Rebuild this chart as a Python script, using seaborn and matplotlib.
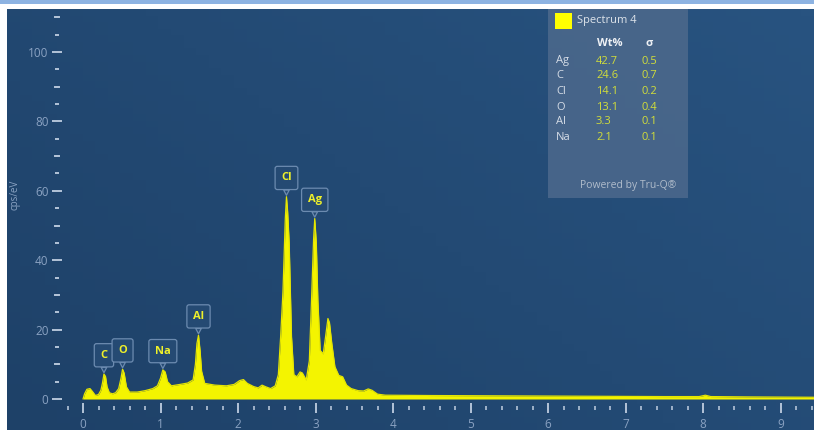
import numpy as np
import matplotlib
matplotlib.use("Agg")
import matplotlib.pyplot as plt
from matplotlib.patches import Rectangle
from matplotlib.colors import LinearSegmentedColormap
from matplotlib.ticker import FixedLocator
import seaborn as sns

# EDS spectrum: photon energy (keV) and intensity (cps/eV)
energy_kev = [
    0.00, 0.02, 0.05, 0.09, 0.12, 0.16, 0.20, 0.23, 0.25, 0.27, 0.29, 0.31,
    0.34, 0.38, 0.42, 0.46, 0.49, 0.51, 0.53, 0.56, 0.60, 0.70, 0.80, 0.90,
    0.96, 1.00, 1.03, 1.06, 1.09, 1.14, 1.25, 1.35, 1.42, 1.45, 1.47, 1.49,
    1.51, 1.53, 1.57, 1.70, 1.85, 1.95, 2.02, 2.07, 2.12, 2.20, 2.26, 2.31,
    2.36, 2.42, 2.48, 2.52, 2.55, 2.58, 2.61, 2.625, 2.64, 2.66, 2.69, 2.72,
    2.76, 2.80, 2.83, 2.88, 2.92, 2.95, 2.975, 2.99, 3.01, 3.03, 3.06, 3.10,
    3.13, 3.16, 3.18, 3.21, 3.25, 3.30, 3.35, 3.40, 3.46, 3.55, 3.62, 3.68,
    3.73, 3.80, 3.90, 4.50, 5.50, 6.50, 7.50, 7.95, 8.03, 8.10, 8.60, 9.43,
]
counts_cps = [
    0.0, 1.5, 2.8, 3.0, 2.2, 1.0, 1.3, 2.5, 4.5, 7.2, 6.5, 3.5,
    1.8, 1.5, 1.8, 3.0, 6.0, 8.6, 7.5, 3.5, 2.0, 2.0, 2.4, 3.0,
    3.8, 6.0, 8.4, 7.8, 5.0, 3.8, 4.2, 4.6, 5.5, 10.0, 16.0, 18.4,
    14.0, 8.0, 4.5, 4.0, 3.8, 4.2, 5.3, 5.6, 4.5, 3.6, 3.2, 4.0,
    3.5, 3.0, 3.8, 7.0, 18.0, 31.0, 52.0, 58.3, 54.0, 45.0, 18.0, 7.0,
    6.4, 7.8, 7.5, 5.5, 11.0, 29.5, 46.0, 52.0, 45.0, 28.5, 14.0, 13.0,
    18.0, 23.2, 22.0, 16.0, 9.3, 6.8, 6.4, 4.0, 3.0, 2.4, 2.3, 2.9,
    2.5, 1.4, 1.1, 1.0, 0.9, 0.8, 0.7, 0.7, 1.1, 0.7, 0.6, 0.5,
]

# Identified lines
peak_labels = ["C", "O", "Na", "Al", "Cl", "Ag"]
peak_energy = [0.27, 0.51, 1.03, 1.49, 2.625, 2.99]

# Quantification table
spectrum_name = "Spectrum 4"
elements = ["Ag", "C", "Cl", "O", "Al", "Na"]
wt_percent = ["42.7", "24.6", "14.1", "13.1", "3.3", "2.1"]
sigma = ["0.5", "0.7", "0.2", "0.4", "0.1", "0.1"]

x_major_ticks = [0, 1, 2, 3, 4, 5, 6, 7, 8, 9]
y_major_ticks = [0, 20, 40, 60, 80, 100]
y_mid_ticks = [10, 30, 50, 70, 90, 110]

sns.set_theme(style="dark")
plt.rcParams["font.family"] = ["Open Sans", "DejaVu Sans"]

W, H = 814, 430
fig = plt.figure(figsize=(W / 100, H / 100), dpi=100, facecolor="white")


def fx(px):
    return px / W


def fy(py):
    return 1 - py / H


TICK_C = "#b4c4d8"
LABEL_C = "#8aa2c2"
SPEC_C = "#f4f400"

ax = fig.add_axes([fx(7), 0, 1 - fx(7), 1 - 9 / H])
ax.set_facecolor("#21466e")

# soft diagonal shading of the plot panel
cmap = LinearSegmentedColormap.from_list("panel", ["#1e4168", "#285380"])
gx, gy = np.meshgrid(np.linspace(0, 1, 64), np.linspace(0, 1, 64))
ax.imshow(0.6 * gx + 0.4 * gy, cmap=cmap, extent=(0, 1, 0, 1),
          transform=ax.transAxes, origin="lower", aspect="auto", zorder=0)

ax.fill_between(energy_kev, 0, counts_cps, color=SPEC_C, lw=0, zorder=2)
sns.lineplot(x=energy_kev, y=counts_cps, ax=ax, color="#e6e600", lw=0.9,
             sort=False, zorder=3)

XLIM = (-0.981, 9.432)
YLIM = (-8.93, 112.39)
ax.set_xlim(*XLIM)
ax.set_ylim(*YLIM)
ax.set_xlabel("")
ax.set_ylabel("")
ax.grid(False)

for s in ax.spines.values():
    s.set_visible(False)
ax.spines["left"].set_position(("data", -0.335))
ax.spines["bottom"].set_position(("data", -2.45))

ax.set_xticks(x_major_ticks)
ax.set_xticklabels([str(v) for v in x_major_ticks])
ax.xaxis.set_minor_locator(FixedLocator(np.round(np.arange(-1, 48) * 0.2, 1)))
ax.set_yticks(y_major_ticks)
ax.set_yticklabels([str(v) for v in y_major_ticks])
ax.yaxis.set_minor_locator(FixedLocator(np.arange(0, 115, 5)))

ax.tick_params(axis="x", which="major", direction="inout", length=6.5,
               width=1.4, color=TICK_C, labelcolor=LABEL_C, labelsize=8.5,
               pad=4.0, bottom=True)
ax.tick_params(axis="x", which="minor", direction="inout", length=2.6,
               width=1.2, color=TICK_C, bottom=True)
ax.tick_params(axis="y", which="major", direction="inout", length=7.2,
               width=1.4, color=TICK_C, labelcolor=LABEL_C, labelsize=8.5,
               pad=2.5, left=True)
ax.tick_params(axis="y", which="minor", direction="inout", length=2.9,
               width=1.4, color=TICK_C, left=True)

# intermediate-length ticks every 10 cps/eV
ax_mid = fig.add_axes(ax.get_position(), facecolor="none")
ax_mid.set_xlim(*XLIM)
ax_mid.set_ylim(*YLIM)
for s in ax_mid.spines.values():
    s.set_visible(False)
ax_mid.spines["left"].set_position(("data", -0.335))
ax_mid.set_xticks([])
ax_mid.set_yticks(y_mid_ticks)
ax_mid.tick_params(axis="y", direction="inout", length=5.0, width=1.4,
                   color=TICK_C, labelleft=False, left=True)
ax_mid.grid(False)

fig.text(fx(15), fy(195), "cps/eV", rotation=90, color=LABEL_C,
         fontsize=7, ha="center", va="center")

# element callouts on the spectrum
BOX_FC = "#254a73"
BOX_EC = "#6c8bb0"
for lab, e in zip(peak_labels, peak_energy):
    h = float(np.interp(e, energy_kev, counts_cps))
    ax.annotate(
        lab, xy=(e, h), xytext=(0, 13.5), textcoords="offset points",
        ha="center", va="center", color="#eef02a", fontsize=8,
        fontweight="bold", zorder=6,
        bbox=dict(boxstyle="round,pad=0.55,rounding_size=0.2", fc=BOX_FC,
                  ec=BOX_EC, lw=0.9),
        arrowprops=dict(arrowstyle="wedge,tail_width=0.5,shrink_factor=0.5",
                        fc=BOX_FC, ec=BOX_EC, lw=0.9, shrinkA=0, shrinkB=1),
    )

# top banner
fig.add_artist(Rectangle((0, fy(4)), 1, 4 / H, transform=fig.transFigure,
                         fc="#8db3e2", ec="none", zorder=5))

# quantification panel
fig.add_artist(Rectangle((fx(548), fy(198)), fx(140), 189 / H,
                         transform=fig.transFigure, fc="#4a678b", alpha=0.92,
                         ec="none", zorder=5))
fig.add_artist(Rectangle((fx(555), fy(29)), fx(17), 16 / H,
                         transform=fig.transFigure, fc="#ffff00", ec="none",
                         zorder=6))
fig.text(fx(577), fy(21), spectrum_name, color="#dde3ea", fontsize=8,
         ha="left", va="center", zorder=7)
fig.text(fx(597), fy(43), "Wt%", color="#eef1f5", fontsize=8,
         fontweight="bold", ha="left", va="center", zorder=7)
fig.text(fx(645), fy(43), "σ", color="#eef1f5", fontsize=8,
         fontweight="bold", ha="left", va="center", zorder=7)
row_y = [61, 76, 91, 107, 122, 138]
for el, w, sg, py in zip(elements, wt_percent, sigma, row_y):
    fig.text(fx(556), fy(py), el, color="#d6dde7", fontsize=8,
             ha="left", va="center", zorder=7)
    fig.text(fx(596), fy(py), w, color="#d2de3a", fontsize=8,
             ha="left", va="center", zorder=7)
    fig.text(fx(641), fy(py), sg, color="#d2de3a", fontsize=8,
             ha="left", va="center", zorder=7)
fig.text(fx(628), fy(186), "Powered by Tru-Q®", color="#b0bccb",
         fontsize=7.5, ha="center", va="center", zorder=7)

fig.savefig("out.png", dpi=100, facecolor="white")
